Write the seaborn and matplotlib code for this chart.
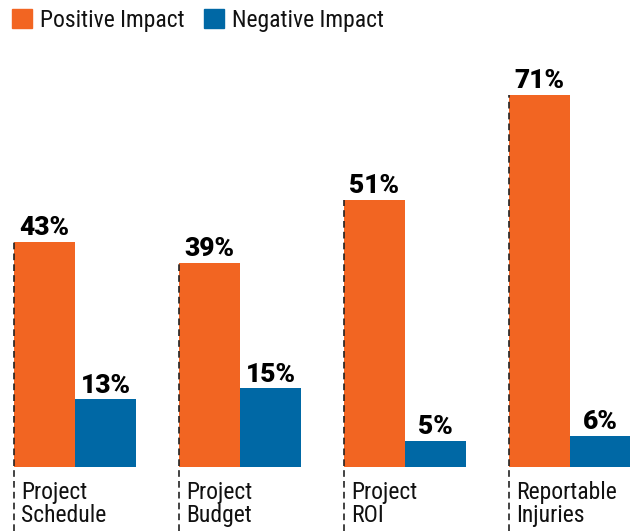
import pandas as pd
import matplotlib.pyplot as plt
import seaborn as sns

# Chart data
categories = ["Project\nSchedule", "Project\nBudget", "Project\nROI", "Reportable\nInjuries"]
positive = [43, 39, 51, 71]
negative = [13, 15, 5, 6]
series = ["Positive Impact", "Negative Impact"]
colors = ["#F26522", "#0068A5"]

df = pd.DataFrame({
    "category": categories * 2,
    "impact": [series[0]] * 4 + [series[1]] * 4,
    "value": positive + negative,
})

sns.set_style("white")
plt.rcParams['font.family'] = ['Roboto Condensed', 'DejaVu Sans']

fig = plt.figure(figsize=(6.3, 5.31), dpi=100)
ax = fig.add_axes([0, 0, 1, 1])

sns.barplot(data=df, x="category", y="value", hue="impact", palette=colors,
            width=0.74, saturation=1, linewidth=0, ax=ax, legend=False)

ax.set_xlim(-0.4545, 3.364)
ylo = -12.2
ax.set_ylim(ylo, 89.1)
ax.axis("off")

# Value labels
for cont in ax.containers:
    ax.bar_label(cont, labels=[f"{int(v)}%" for v in cont.datavalues],
                 padding=1, fontsize=19, fontweight=900,
                 family="Roboto", color="black")

# Dashed guide lines and category labels at left edge of orange bars
for patch, cat in zip(ax.containers[0].patches, categories):
    x0 = patch.get_x()
    ax.plot([x0, x0], [ylo, patch.get_height()], color="#222222",
            lw=1.2, ls=(0, (4, 2.5)))
    ax.text(x0 + 0.045, -2.6, cat, ha="left", va="top", fontsize=17,
            linespacing=1.0, color="#111111")

# Legend
handles = [plt.Rectangle((0, 0), 1, 1, color=c) for c in colors]
fig.legend(handles, series, loc="upper left", ncol=2, frameon=False,
           bbox_to_anchor=(12 / 630, 1 - 9 / 531), borderaxespad=0, borderpad=0,
           fontsize=17, handlelength=0.85, handleheight=0.85,
           handletextpad=0.35, columnspacing=0.8, labelcolor="#111111")

plt.savefig("out.png", dpi=100)
